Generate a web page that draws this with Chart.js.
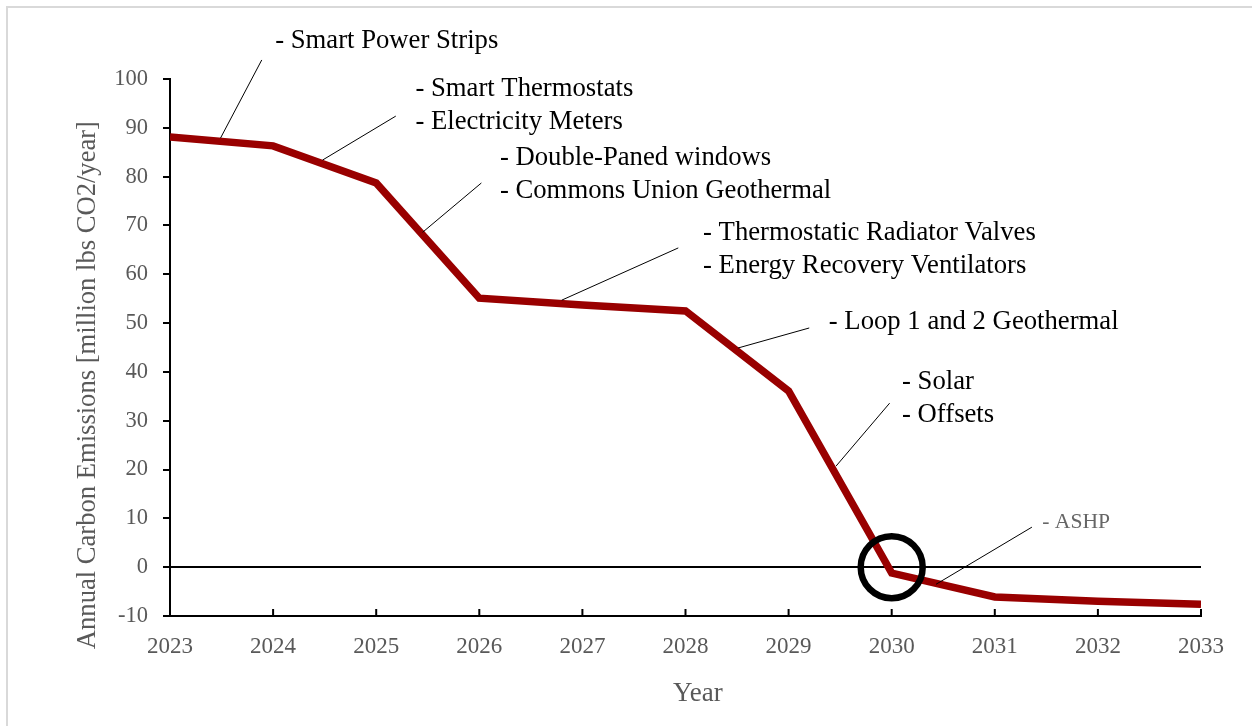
<!DOCTYPE html>
<html lang="en">
  <head>
    <meta charset="UTF-8" />
    <script src="https://cdn.jsdelivr.net/npm/chart.js@4.4.0/dist/chart.umd.min.js"></script>
    <title>Annual Carbon Emissions</title>
    <style>
      body { margin: 0; padding: 0; background: #fff; }
      .container { position: relative; width: 1252px; height: 726px; }
    </style>
  </head>
  <body>
    <div class="container">
      <canvas id="emissions"></canvas>
    </div>
    <script>
      const years = [2023, 2024, 2025, 2026, 2027, 2028, 2029, 2030, 2031, 2032, 2033]
      const emissions = [88.1, 86.3, 78.7, 55.1, 53.7, 52.5, 36.1, -1.2, -6.1, -7.0, -7.6]
      const yTicks = [-10, 0, 10, 20, 30, 40, 50, 60, 70, 80, 90, 100]
      const yTitle = 'Annual Carbon Emissions [million lbs CO2/year]'
      const xTitle = 'Year'

      // annotation labels: anchor on the line, end of leader, text position (data units)
      const notes = [
        { lines: ['- Smart Power Strips'], anchor: [2023.49, 87.9], end: [2023.89, 103.9], text: [2024.02, 107.8] },
        { lines: ['- Smart Thermostats', '- Electricity Meters'], anchor: [2024.48, 83.4], end: [2025.19, 92.4], text: [2025.38, 97.9] },
        { lines: ['- Double-Paned windows', '- Commons Union Geothermal'], anchor: [2025.45, 68.6], end: [2026.02, 78.7], text: [2026.2, 83.8] },
        { lines: ['- Thermostatic Radiator Valves', '- Energy Recovery Ventilators'], anchor: [2026.8, 54.7], end: [2027.93, 65.4], text: [2028.17, 68.4] },
        { lines: ['- Loop 1 and 2 Geothermal'], anchor: [2028.51, 44.9], end: [2029.2, 49.0], text: [2029.39, 50.2] },
        { lines: ['- Solar', '- Offsets'], anchor: [2029.46, 20.7], end: [2029.98, 33.6], text: [2030.1, 37.9] },
        { lines: ['- ASHP'], anchor: [2030.43, -3.5], end: [2031.36, 8.2], text: [2031.46, 9.2], grey: true },
      ]
      const netZeroYear = 2030

      const serif = "'Liberation Serif', 'Times New Roman', serif"

      const notesPlugin = {
        id: 'notes',
        beforeDraw(chart) {
          const c = chart.ctx
          c.save()
          c.fillStyle = '#fff'
          c.fillRect(0, 0, chart.width, chart.height)
          c.strokeStyle = '#d9d9d9'
          c.lineWidth = 2
          c.beginPath()
          c.moveTo(7, chart.height)
          c.lineTo(7, 7)
          c.lineTo(chart.width, 7)
          c.stroke()
          c.restore()
        },
        afterDraw(chart) {
          const c = chart.ctx
          const xs = chart.scales.x
          const ys = chart.scales.y
          const px = (v) => xs.getPixelForValue(v)
          const py = (v) => ys.getPixelForValue(v)
          c.save()
          // inward ticks on x axis
          c.strokeStyle = '#000'
          c.lineWidth = 2
          years.forEach((yr) => {
            c.beginPath()
            c.moveTo(px(yr), ys.bottom)
            c.lineTo(px(yr), ys.bottom - 7)
            c.stroke()
          })
          // axis titles (the original sits a bit off the axis centre)
          c.fillStyle = '#595959'
          c.textAlign = 'center'
          c.textBaseline = 'middle'
          c.font = '26.6px ' + serif
          c.save()
          c.translate(88, py(37.3))
          c.rotate(-Math.PI / 2)
          c.fillText(yTitle, 0, 0)
          c.restore()
          c.font = '27px ' + serif
          c.fillText(xTitle, px(2028.12), 694)
          // leader lines and labels
          c.lineWidth = 1
          c.textAlign = 'left'
          notes.forEach((n) => {
            c.strokeStyle = '#000'
            c.beginPath()
            c.moveTo(px(n.anchor[0]), py(n.anchor[1]))
            c.lineTo(px(n.end[0]), py(n.end[1]))
            c.stroke()
            c.fillStyle = n.grey ? '#666' : '#000'
            c.font = (n.grey ? '21.6px ' : '26.7px ') + serif
            n.lines.forEach((t, i) => {
              c.fillText(t, px(n.text[0]), py(n.text[1]) + i * 33)
            })
          })
          // net-zero circle
          c.strokeStyle = '#000'
          c.lineWidth = 6.5
          c.beginPath()
          c.arc(px(netZeroYear), py(0), 31, 0, Math.PI * 2)
          c.stroke()
          c.restore()
        },
      }

      new Chart(document.getElementById('emissions'), {
        type: 'line',
        data: {
          datasets: [
            {
              data: years.map((yr, i) => ({ x: yr, y: emissions[i] })),
              borderColor: '#990000',
              borderWidth: 7.5,
              pointRadius: 0,
              tension: 0,
              borderJoinStyle: 'miter',
            },
          ],
        },
        plugins: [notesPlugin],
        options: {
          responsive: true,
          maintainAspectRatio: false,
          animation: false,
          layout: { padding: { left: 0, top: 79, right: 51, bottom: 0 } },
          plugins: { legend: { display: false }, tooltip: { enabled: false } },
          scales: {
            x: {
              type: 'linear',
              min: 2023,
              max: 2033,
              afterBuildTicks: (s) => { s.ticks = years.map((v) => ({ value: v })) },
              afterFit: (s) => { s.height = 110 },
              grid: { display: false, drawTicks: false },
              border: { display: true, color: '#000', width: 2 },
              ticks: {
                color: '#595959',
                font: { family: serif, size: 23 },
                padding: 17,
                callback: (v) => String(v),
              },
            },
            y: {
              min: -10,
              max: 100,
              afterBuildTicks: (s) => { s.ticks = yTicks.map((v) => ({ value: v })) },
              afterFit: (s) => { s.width = 170 },
              grid: {
                drawTicks: true,
                tickLength: 7,
                tickColor: '#000',
                tickWidth: 2,
                color: (ctx) => (ctx.tick && ctx.tick.value === 0 ? '#000' : 'rgba(0,0,0,0)'),
                lineWidth: 2,
              },
              border: { display: true, color: '#000', width: 2 },
              ticks: {
                color: '#595959',
                font: { family: serif, size: 22.5 },
                padding: 15,
              },
            },
          },
        },
      })
    </script>
  </body>
</html>
